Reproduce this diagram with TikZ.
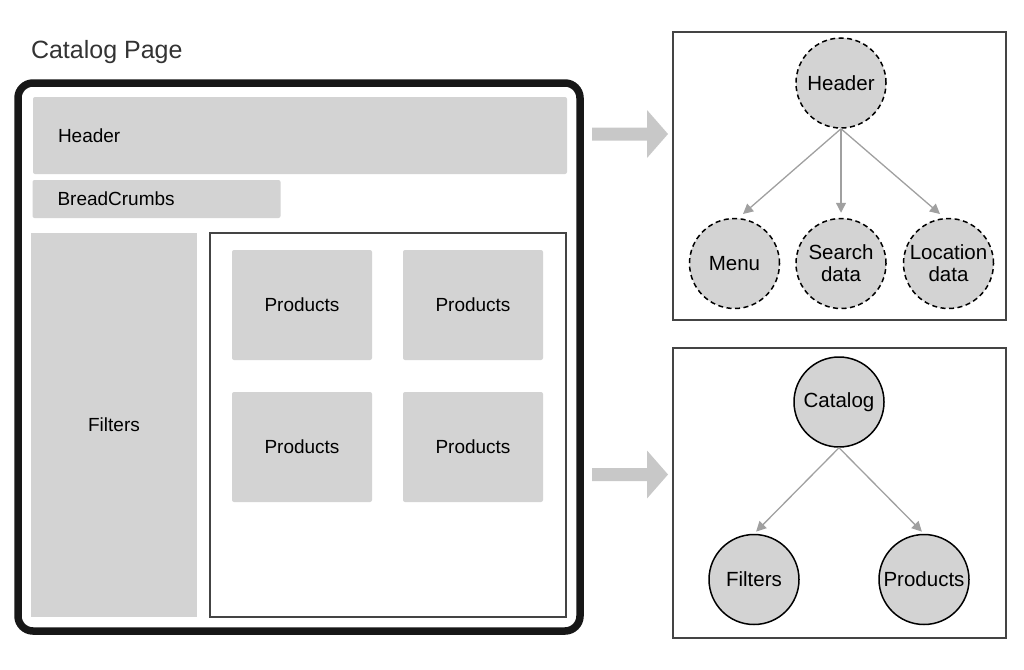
\documentclass[tikz,border=0pt]{standalone}
\usepackage{fontspec}
\setmainfont{Liberation Sans}
\usetikzlibrary{positioning}
\usetikzlibrary{arrows.meta}
\definecolor{boxgrey}{HTML}{D3D3D3}
\definecolor{linegrey}{HTML}{A0A0A0}
\definecolor{fatgrey}{HTML}{C8C8C8}
\definecolor{panelgrey}{HTML}{444444}
\definecolor{titlegrey}{HTML}{333333}
\tikzset{>={Triangle[length=10pt,width=10pt]}}
\tikzset{bar/.style={fill=boxgrey, rounded corners=2pt, inner sep=0pt, inner xsep=25pt, align=left, font=\fontsize{19}{22}\selectfont}}
\tikzset{tile/.style={fill=boxgrey, rounded corners=2pt, minimum width=140pt, minimum height=110pt, font=\fontsize{19}{22}\selectfont}}
\tikzset{panel/.style={draw=panelgrey, line width=2pt, inner sep=0pt}}
\tikzset{vert/.style={draw, circle, fill=boxgrey, line width=1.5pt, minimum size=90pt, inner sep=0pt, align=center, font=\fontsize{20.5}{22}\selectfont}}
\tikzset{dvert/.style={vert, dash pattern=on 5pt off 3.5pt}}
\tikzset{ed/.style={->, draw=linegrey, line width=1.3pt}}

\begin{document}
\begin{tikzpicture}[x=1pt,y=-1pt]
\useasboundingbox (0,0) rectangle (1024,669);

% the page
\node[anchor=base west, text=titlegrey, font=\fontsize{25}{28}\selectfont] (title) at (27.5,59) {Catalog Page};
\node[draw=black!91, line width=7.5pt, rounded corners=15pt, minimum width=562pt, minimum height=548pt] (page) at (299,357) {};

\node[bar, text width=484pt, minimum height=77pt] (hdrbar) at (300,135.5) {Header};
\node[bar, text width=198pt, minimum height=38pt] (crumbs) at (156.5,199) {BreadCrumbs};
\node[tile, rounded corners=0pt, minimum width=166.5pt, minimum height=384pt] (filterbar) at (114,425) {Filters};

\node[panel, minimum width=356pt, minimum height=384pt] (grid) at (388,425) {};
\node[tile] (prodA) at (302,305) {Products};
\node[tile] (prodB) at (473,305) {Products};
\node[tile] (prodC) at (302,447) {Products};
\node[tile] (prodD) at (473,447) {Products};

% fat arrows
\foreach \y in {134,474.5}
  \fill[fatgrey] (592,\y-6.5) -- (647,\y-6.5) -- (647,\y-24) -- (668,\y)
    -- (647,\y+24) -- (647,\y+6.5) -- (592,\y+6.5) -- cycle;

% header tree
\node[panel, minimum width=333pt, minimum height=288pt] (treeA) at (839.5,176) {};
\node[dvert] (hdr) at (841,83) {Header};
\node[dvert, below=89pt of hdr] (search) {Search\\data};
\node[dvert, left=15pt of search] (menu) {Menu};
\node[dvert, right=16pt of search] (loc) {Location\\data};

\draw[ed, shorten >=6pt] (hdr.south) -- (menu.85);
\draw[ed, shorten >=5pt] (hdr.south) -- (search.north);
\draw[ed, shorten >=6pt] (hdr.south) -- (loc.95);

% catalog tree
\node[panel, minimum width=333pt, minimum height=290pt] (treeB) at (839.5,493) {};
\node[vert] (cat) at (839,402) {Catalog};
\node[vert] (filt) at (754,579.5) {Filters};
\node[vert] (prod) at (924,579.5) {Products};

\draw[ed, shorten >=3pt] (cat.south) -- (filt.north);
\draw[ed, shorten >=3pt] (cat.south) -- (prod.north);
\end{tikzpicture}
\end{document}
